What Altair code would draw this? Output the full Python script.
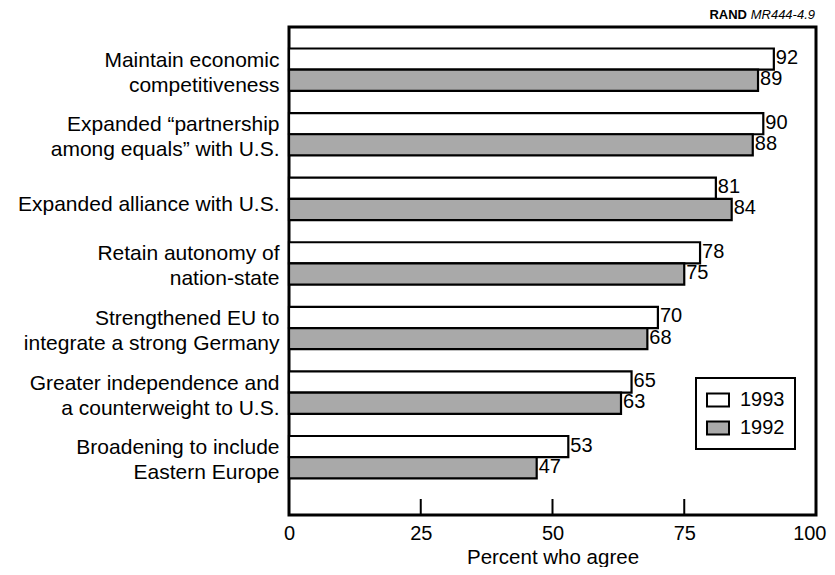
import altair as alt
import pandas as pd

categories = [
    "Maintain economic|competitiveness",
    "Expanded \u201cpartnership|among equals\u201d with U.S.",
    "Expanded alliance with U.S.",
    "Retain autonomy of|nation-state",
    "Strengthened EU to|integrate a strong Germany",
    "Greater independence and|a counterweight to U.S.",
    "Broadening to include|Eastern Europe",
]
series = ["1993", "1992"]
values_1993 = [92, 90, 81, 78, 70, 65, 53]
values_1992 = [89, 88, 84, 75, 68, 63, 47]
x_ticks = [0, 25, 50, 75, 100]
inner_ticks = [25, 50, 75]

rows = []
for c, a, b in zip(categories, values_1993, values_1992):
    rows.append({"item": c, "year": "1993", "pct": a})
    rows.append({"item": c, "year": "1992", "pct": b})
df = pd.DataFrame(rows)

W, H = 527, 488
FONT = "Liberation Sans"

y_enc = alt.Y(
    "item:N",
    sort=categories,
    scale=alt.Scale(paddingInner=0.344, paddingOuter=0.45, align=0.37),
    axis=alt.Axis(
        title=None, ticks=False, domain=False, labelFontSize=21,
        labelLineHeight=25, labelPadding=10,
        labelOffset=alt.condition("indexof(datum.value, '|') >= 0", alt.value(-9), alt.value(6)),
        labelExpr="split(datum.label, '|')", labelColor="black",
        labelFont=FONT, labelLimit=400,
    ),
)
yoff = alt.YOffset("year:N", sort=series, scale=alt.Scale(paddingInner=0, paddingOuter=0))
x_scale = alt.Scale(domain=[0, 100], nice=False, zero=True)

bars = alt.Chart(df).mark_bar(stroke="black", strokeWidth=2.2).encode(
    x=alt.X(
        "pct:Q", scale=x_scale,
        axis=alt.Axis(
            values=x_ticks, ticks=False, domain=False, grid=False,
            labelFontSize=20, labelPadding=8, labelFlush=False,
            labelAlign=alt.condition("datum.value == 100", alt.value("right"), alt.value("center")),
            labelOffset=alt.condition("datum.value == 100", alt.value(10), alt.value(0)),
            labelColor="black", labelFont=FONT,
            title="Percent who agree", titleFontSize=20.5, titleFontWeight="normal",
            titleFont=FONT, titleColor="black", titlePadding=4,
        ),
    ),
    y=y_enc,
    yOffset=yoff,
    fill=alt.Fill(
        "year:N", sort=series,
        scale=alt.Scale(domain=series, range=["white", "#a9a9a9"]),
        legend=alt.Legend(
            title=None, orient="none", legendX=407, legendY=351,
            symbolType="M-1,-0.6H1V0.6H-1Z", symbolSize=484,
            symbolStrokeColor="black", symbolStrokeWidth=2,
            labelFontSize=20, labelFont=FONT, labelColor="black",
            labelOffset=10, rowPadding=5, padding=10,
            strokeColor="black",
        ),
    ),
)

labels = alt.Chart(df).mark_text(
    align="left", baseline="middle", dx=2, dy=-1, fontSize=20, font=FONT, color="black"
).encode(
    x=alt.X("pct:Q", scale=x_scale),
    y=alt.Y("item:N", sort=categories),
    yOffset=alt.YOffset("year:N", sort=series),
    text="pct:Q",
)

ticks_df = pd.DataFrame({"t": inner_ticks})
ticks = alt.Chart(ticks_df).mark_rule(color="black", strokeWidth=2).encode(
    x=alt.X("t:Q", scale=x_scale),
    y=alt.value(H),
    y2=alt.value(H - 16),
)

note_df = pd.DataFrame({"a": ["RAND"], "b": ["MR444-4.9"]})
note_rand = alt.Chart(note_df).mark_text(
    align="right", baseline="middle", fontSize=13, fontWeight="bold", font=FONT, color="black"
).encode(x=alt.value(W - 69), y=alt.value(-12), text="a:N")
note_mr = alt.Chart(note_df).mark_text(
    align="right", baseline="middle", fontSize=13, fontStyle="italic", font=FONT, color="black"
).encode(x=alt.value(W - 1), y=alt.value(-12), text="b:N")

chart = alt.layer(bars, labels, ticks, note_rand, note_mr).properties(
    width=W, height=H,
    autosize=alt.AutoSizeParams(type="none"),
    padding={"left": 281, "top": 19, "right": 11, "bottom": 52},
).configure_view(
    stroke="black", strokeWidth=3
).configure_legend(
    strokeWidth=2
)

chart.save("out.html", embed_options={"renderer": "svg", "actions": False})
